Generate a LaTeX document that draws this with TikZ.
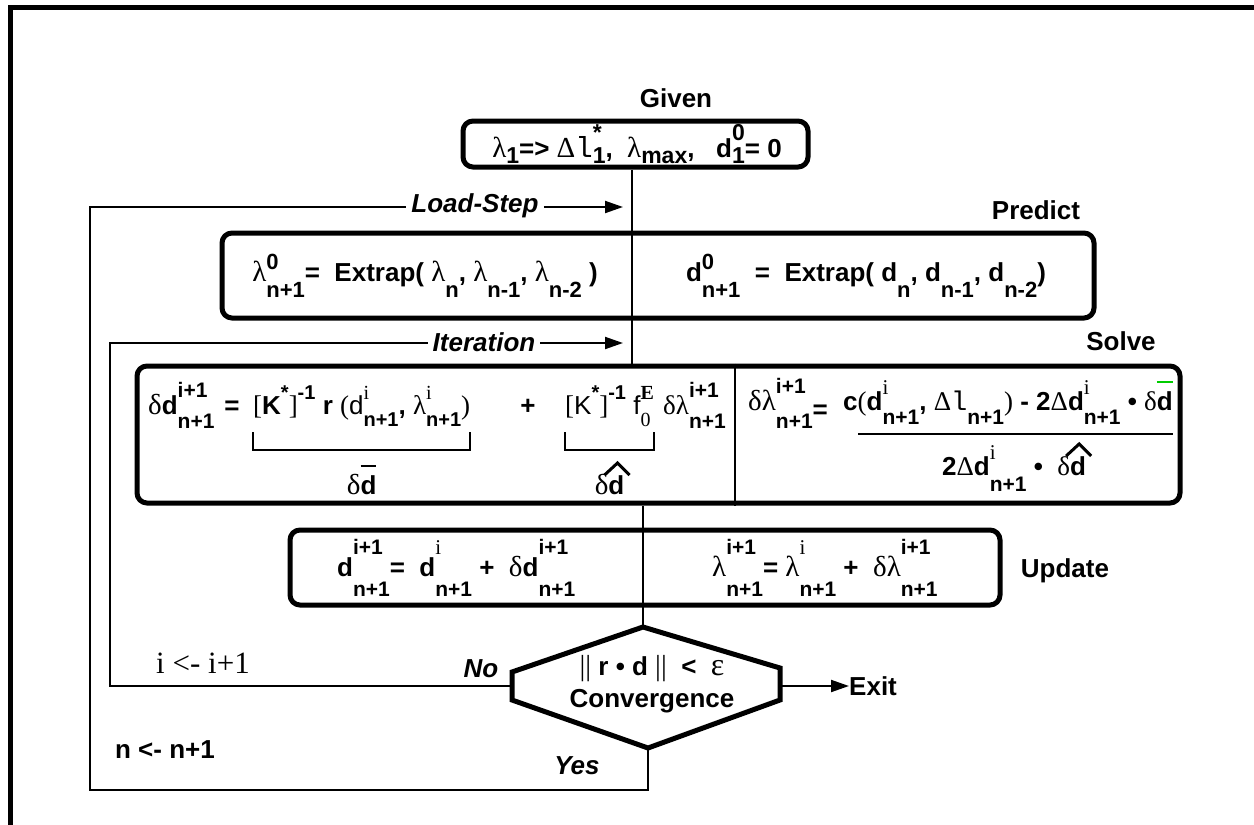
\documentclass[tikz,border=0pt]{standalone}
\usepackage{fontspec}
\setmainfont{Liberation Sans}
\newfontfamily\serf{Liberation Serif}
\newfontfamily\mono{Liberation Mono}
\usetikzlibrary{arrows.meta,calc}

\newsavebox\bxa \newsavebox\bxb \newsavebox\bxc
\newlength\wdm \newlength\supr \newlength\subr
\setlength\supr{13pt}\setlength\subr{10pt}
\def\scs{22}\def\grs{29}
\newcommand\scr{\fontsize{\scs}{\scs}\selectfont}
\newcommand\SU[2]{\sbox\bxa{\scr #1}\sbox\bxb{\scr #2}%
  \setlength\wdm{\wd\bxa}\ifdim\wd\bxb>\wdm\setlength\wdm{\wd\bxb}\fi
  \makebox[\wdm][l]{\rlap{\raisebox{\supr}{\usebox\bxa}}\raisebox{-\subr}{\usebox\bxb}}}
\newcommand\SP[1]{\raisebox{\supr}{\scr #1}}
\newcommand\SB[1]{\raisebox{-\subr}{\scr #1}}
\newcommand\gk{\serf\mdseries\fontsize{\grs}{\grs}\selectfont}
\newcommand\Lm{{\gk λ}}
\newcommand\Dt{{\gk δ}}
\newcommand\DL{{\gk Δ}}
\newcommand\Ll{{\mono\mdseries\fontsize{\grs}{\grs}\selectfont l}}
\newcommand\si{{\serf\mdseries i}}
\newcommand\Bd[1][black]{\leavevmode\sbox\bxc{d}\rlap{\textcolor{#1}{\rule[27pt]{\wd\bxc}{2.5pt}}}d}

\tikzset{
  box/.style={draw, line width=5pt, rounded corners=10pt, inner sep=0pt},
  conn/.style={line width=2pt},
  hat/.style={line width=3pt},
  arr/.style={conn, -{Triangle[length=18pt,width=12pt]}},
  txt/.style={inner sep=0pt, font=\bfseries\fontsize{26}{30}\selectfont},
  ital/.style={inner sep=5pt, font=\bfseries\itshape\fontsize{26}{30}\selectfont},
  frame/.style={line width=5pt}
}

\begin{document}
\begin{tikzpicture}[x=1pt,y=-1pt]
\useasboundingbox (0,0) rectangle (1254,825);
\draw[frame] (1254,7.5) -- (10.5,7.5) -- (10.5,825);

% boxes
\node[box, minimum width=345pt, minimum height=46pt] (given) at (635.5,144) {};
\node[box, minimum width=872pt, minimum height=85pt] (predict) at (658,275.5) {};
\node[box, minimum width=1043pt, minimum height=137pt] (solve) at (658.5,434.5) {};
\node[box, minimum width=710pt, minimum height=75pt] (update) at (645,567.5) {};

% hexagon
\coordinate (hT) at (643,627);
\coordinate (hL) at (512,686);
\coordinate (hR) at (780,686);
\coordinate (hB) at (648,748);
\draw[line width=5pt] (hT) -- (512,672) -- (512,700) -- (hB) -- (780,700) -- (780,668) -- cycle;

% spine
\coordinate (c1) at (632,0);
\coordinate (c2) at (643,0);
\coordinate (c3) at (735,0);
\draw[conn] (given.south -| c1) -- (solve.north -| c1);
\draw[conn] (solve.south -| c2) -- (hT);
\draw[conn] (solve.north -| c3) -- (solve.south -| c3);

% section labels
\node[txt, anchor=base] (lgiven) at (676,107) {Given};
\node[txt, anchor=base] (lpredict) at (1036,219) {Predict};
\node[txt, anchor=base] (lsolve) at (1121,350) {Solve};
\node[txt, anchor=base] (lupdate) at (1065,577) {Update};

% given text
\node[txt, anchor=base] (tgiven) at (637,157) {\def\scs{23}\setlength\supr{17pt}\setlength\subr{6pt}%
  \Lm\SB{1}=> \DL\Ll\SU{*}{1}, \ \Lm\SB{max}, \ \ d\SU{0}{1}= 0};

% predict text
\node[txt, anchor=base] (tpl) at (425,281) {\setlength\supr{12pt}\setlength\subr{16pt}%
  \Lm\SU{0}{n+1}= \ Extrap( \Lm\SB{n}, \Lm\SB{n-1}, \Lm\SB{n-2} )};
\node[txt, anchor=base] (tpr) at (866,281) {\setlength\supr{12pt}\setlength\subr{16pt}%
  d\SU{0}{n+1} \ = \ Extrap( d\SB{n}, d\SB{n-1}, d\SB{n-2})};

% solve left
\node[txt, anchor=base west] (s1) at (148,414) {\def\scs{21}\setlength\supr{17pt}\setlength\subr{14pt}\Dt d\SU{i+1}{n+1}};
\node[txt, anchor=base] (s2) at (232,414) {=};
\node[txt, anchor=base west] (s3) at (253,414) {\def\scs{20}\def\grs{27}\setlength\supr{15pt}\setlength\subr{12pt}%
  {\gk[}K\SP{*}{\gk]}\SP{-1} r {\gk(}{\mdseries d}\SU{\si}{n+1}, \Lm\SU{\si}{n+1}{\gk)}};
\node[txt, anchor=base] (s4) at (528,414) {+};
\node[txt, anchor=base west] (s5) at (565,414) {\def\scs{20}\def\grs{27}\setlength\supr{15pt}\setlength\subr{12pt}%
  {\gk[}{\mdseries K}\SP{*}{\gk]}\SP{-1} {\mdseries f}\SU{\serf E}{\serf\mdseries 0}};
\node[txt, anchor=base west] (s6) at (663,414) {\def\scs{21}\def\grs{27}\setlength\supr{17pt}\setlength\subr{14pt}\Dt\Lm\SU{i+1}{n+1}};
\draw[conn] ($(s3.base west)+(0,18)$) -- ($(s3.base west)+(0,36)$) -- ($(s3.base east)+(0,36)$) -- ($(s3.base east)+(0,18)$);
\draw[conn] ($(s5.base west)+(0,18)$) -- ($(s5.base west)+(0,36)$) -- ($(s5.base east)+(0,36)$) -- ($(s5.base east)+(0,18)$);
\node[txt, anchor=base] (s7) at ($(s3.base)+(0,80)$) {\Dt\Bd};
\node[txt, anchor=base] (s8) at ($(s5.base)+(0,80)$) {\Dt d};
\draw[hat] ($(s8.base east)+(-20,-19)$) -- ($(s8.base east)+(-7,-31)$) -- ($(s8.base east)+(5,-19)$);

% solve right
\node[txt, anchor=base west] (r1) at (748,410) {\def\scs{21}\setlength\supr{17pt}\setlength\subr{18pt}\Dt\Lm\SU{i+1}{n+1}\raisebox{-8pt}{=}};
\node[txt, anchor=base] (rnum) at (1008,410) {\def\scs{21}\def\grs{27}\setlength\supr{16pt}\setlength\subr{14pt}%
  c{\gk(}d\SU{\si}{n+1}, \DL\Ll\SB{n+1}{\gk)} - 2\DL d\SU{\si}{n+1} • \Dt\Bd[green!80!black]};
\coordinate (fb1) at (858,434);
\coordinate (fb2) at (1173,434);
\draw[conn] (fb1) -- (fb2);
\node[txt, anchor=base] (rden) at (1014,475) {\def\scs{21}\def\grs{27}\setlength\supr{16pt}\setlength\subr{16pt}%
  2\DL d\SU{\si}{n+1} • \ \Dt d};
\draw[hat] ($(rden.base east)+(-20,-19)$) -- ($(rden.base east)+(-7,-31)$) -- ($(rden.base east)+(5,-19)$);

% update
\node[txt, anchor=base west] (ul) at (337,576) {\def\scs{21}\setlength\supr{22pt}\setlength\subr{20pt}%
  d\SU{i+1}{n+1}= \ d\SU{\si}{n+1} + \ \Dt d\SU{i+1}{n+1}};
\node[txt, anchor=base west] (ur) at (712,576) {\def\scs{21}\setlength\supr{22pt}\setlength\subr{20pt}%
  \Lm\SU{i+1}{n+1}= \Lm\SU{\si}{n+1} + \ \Dt\Lm\SU{i+1}{n+1}};

% convergence
\node[txt, align=center] (conv) at (652,684) {{\gk||} r • d {\gk||} \ < \ {\serf\mdseries\fontsize{32}{32}\selectfont ε}\\[2pt]Convergence};

% exit
\node[txt, anchor=west] (exit) at (849,686) {Exit};
\draw[arr] (hR) -- (exit.west);

% iteration loop
\node[ital] (itl) at (484,342) {Iteration};
\coordinate (itc) at (110,343);
\coordinate (ite) at (623,343);
\draw[conn] (hL) -- (hL -| itc) -- (itc) -- (itc -| itl.west);
\draw[arr] (itc -| itl.east) -- (ite);
\node[ital, anchor=base] (no) at (481,677) {No};
\node[inner sep=0pt, anchor=base, font=\serf\fontsize{31}{34}\selectfont] (ii) at (203,673) {i <- i+1};

% load-step loop
\node[ital] (lsl) at (475,206) {Load-Step};
\coordinate (lsb) at (90,790);
\coordinate (lsc) at (90,207);
\coordinate (lse) at (623,207);
\draw[conn] (hB) -- (hB |- lsb) -- (lsb) -- (lsc) -- (lsc -| lsl.west);
\draw[arr] (lsc -| lsl.east) -- (lse);
\node[ital, anchor=base] (yes) at (577,774) {Yes};
\node[txt, anchor=base] (nn) at (165,758) {n <- n+1};
\end{tikzpicture}
\end{document}
